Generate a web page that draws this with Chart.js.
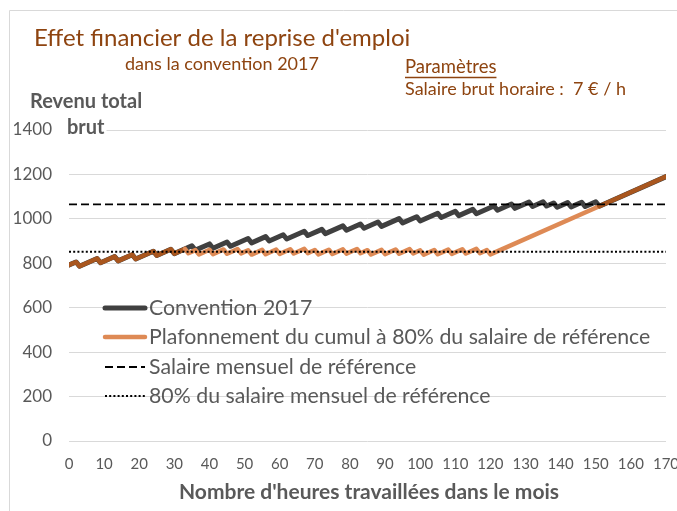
<!DOCTYPE html>
<html>
<head>
<meta charset="utf-8">
<script src="https://cdn.jsdelivr.net/npm/chart.js@4.4.1/dist/chart.umd.min.js"></script>
<style>
  html, body { margin: 0; padding: 0; background: #fff; }
  canvas { display: block; }
</style>
</head>
<body>
<canvas id="myChart" width="677" height="511"></canvas>
<script>
// Convention 2017 (heures, revenu total brut)
const hoursConv = [0, 2, 3, 8, 9, 13, 14, 18, 19, 24, 25, 29, 30, 35, 36, 40, 41, 45, 46, 51,
    52, 56, 57, 61, 62, 67, 68, 72, 73, 78, 79, 83, 84, 88, 89, 94, 95, 99, 100, 105,
    106, 110, 111, 115, 116, 121, 122, 126, 127, 131, 132, 135, 136, 138, 139, 142, 143, 146, 147, 150,
    151, 170];
const valuesConv = [792, 806, 786.6, 821.6, 802.2, 830.2, 810.8, 838.8, 819.4, 854.4, 835, 863, 843.6, 878.6, 859.2, 887.2, 867.8, 895.8, 876.4, 911.4,
    892, 920, 900.6, 928.6, 909.2, 944.2, 924.8, 952.8, 933.4, 968.4, 949, 977, 957.6, 985.6, 966.2, 1001.2, 981.8, 1009.8, 990.4, 1025.4,
    1006, 1034, 1014.6, 1042.6, 1023.2, 1058.2, 1038.8, 1066.8, 1047.4, 1075.4, 1056, 1077, 1057.6, 1071.6, 1052.2, 1073.2, 1053.8, 1074.8, 1055.4, 1076.4,
    1057, 1190];

// Plafonnement du cumul à 80%
const hoursCap = [0, 2, 3, 8, 9, 13, 14, 18, 19, 24, 25, 29, 30, 33, 34, 36, 37, 40, 41, 44,
    45, 48, 49, 51, 52, 55, 56, 59, 60, 63, 64, 67, 68, 70, 71, 74, 75, 78, 79, 82,
    83, 85, 86, 89, 90, 93, 94, 97, 98, 100, 101, 104, 105, 108, 109, 112, 113, 116, 117, 119,
    120, 151, 170];
const valuesCap = [792, 806, 786.6, 821.6, 802.2, 830.2, 810.8, 838.8, 819.4, 854.4, 835, 863, 843.6, 864.6, 845.2, 859.2, 839.8, 860.8, 841.4, 862.4,
    843, 864, 844.6, 858.6, 839.2, 860.2, 840.8, 861.8, 842.4, 863.4, 844, 865, 845.6, 859.6, 840.2, 861.2, 841.8, 862.8, 843.4, 864.4,
    845, 859, 839.6, 860.6, 841.2, 862.2, 842.8, 863.8, 844.4, 858.4, 839, 860, 840.6, 861.6, 842.2, 863.2, 843.8, 864.8, 845.4, 859.4,
    840, 1057, 1190];

// lignes de référence
const refHours = [0, 170];
const refSalary = [1065, 1065];
const ref80 = [852, 852];

const xTickValues = [0, 10, 20, 30, 40, 50, 60, 70, 80, 90, 100, 110, 120, 130, 140, 150, 160, 170];
const yTickValues = [0, 200, 400, 600, 800, 1000, 1200, 1400];

const seriesLabels = [
    'Convention 2017',
    'Plafonnement du cumul à 80% du salaire de référence',
    'Salaire mensuel de référence',
    '80% du salaire mensuel de référence'
];

const GREY = '#404040';
const ORANGE = '#DE8A55';
const BROWN = '#A9561E';
const TITLE = '#8E4410';
const TEXT = '#595959';
const FONT = 'Lato, "Open Sans", sans-serif';

function toPoints(xs, ys) {
    return xs.map((x, i) => ({ x: x, y: ys[i] }));
}

const textPlugin = {
    id: 'textPlugin',
    beforeDraw(chart) {
        const c = chart.ctx;
        c.save();
        c.strokeStyle = '#D9D9D9';
        c.lineWidth = 1;
        c.beginPath();
        c.moveTo(9.5, 520);
        c.lineTo(9.5, 10.5);
        c.lineTo(690, 10.5);
        c.stroke();
        c.restore();
    },
    afterDraw(chart) {
        const c = chart.ctx;
        c.save();
        c.textBaseline = 'middle';
        c.textAlign = 'left';

        c.fillStyle = TITLE;
        c.font = '24px ' + FONT;
        c.fillText("Effet financier de la reprise d'emploi", 34, 38);
        c.font = '18px ' + FONT;
        c.fillText('dans la convention 2017', 125, 64);
        c.font = '18.5px ' + FONT;
        c.fillText('Paramètres', 405, 67);
        const pw = c.measureText('Paramètres').width;
        c.strokeStyle = TITLE;
        c.lineWidth = 1.5;
        c.beginPath();
        c.moveTo(405, 77.5);
        c.lineTo(405 + pw, 77.5);
        c.stroke();
        c.font = '18px ' + FONT;
        c.fillText('Salaire brut horaire :  7 € / h', 405, 89);

        // titre axe Y
        c.font = 'bold 20px ' + FONT;
        c.fillStyle = TEXT;
        c.fillText('Revenu total', 30, 102);
        const bw = c.measureText('brut').width;
        c.fillStyle = '#fff';
        c.fillRect(65, 117, bw + 4, 22);
        c.fillStyle = TEXT;
        c.fillText('brut', 67, 128);

        // titre axe X
        c.font = 'bold 21px ' + FONT;
        c.textAlign = 'center';
        c.fillText("Nombre d'heures travaillées dans le mois", 369, 492);

        // légende
        c.textAlign = 'left';
        c.font = '21.3px ' + FONT;
        const rows = [308, 337, 367, 396];
        chart.data.datasets.forEach((ds, i) => {
            const y = rows[i];
            c.save();
            c.strokeStyle = ds.borderColor;
            c.lineWidth = ds.borderWidth;
            c.lineCap = ds.borderDash ? 'butt' : 'round';
            c.setLineDash(ds.borderDash || []);
            c.beginPath();
            c.moveTo(105, y);
            c.lineTo(145, y);
            c.stroke();
            c.restore();
            c.fillStyle = TEXT;
            c.fillText(seriesLabels[i], 149, y);
        });
        c.restore();
    }
};

const ctx = document.getElementById('myChart').getContext('2d');
new Chart(ctx, {
    type: 'line',
    data: {
        datasets: [{
            label: seriesLabels[0],
            data: toPoints(hoursConv, valuesConv),
            borderColor: GREY,
            borderWidth: 5,
            order: 4
        }, {
            label: seriesLabels[1],
            data: toPoints(hoursCap, valuesCap),
            borderColor: ORANGE,
            borderWidth: 4.5,
            order: 3,
            segment: {
                borderColor: s => (s.p1.parsed.x <= 33 || s.p0.parsed.x >= 151) ? BROWN : undefined
            }
        }, {
            label: seriesLabels[2],
            data: toPoints(refHours, refSalary),
            borderColor: '#000',
            borderWidth: 1.8,
            borderDash: [8, 4],
            borderCapStyle: 'butt',
            order: 2
        }, {
            label: seriesLabels[3],
            data: toPoints(refHours, ref80),
            borderColor: '#000',
            borderWidth: 2,
            borderDash: [2, 2.2],
            borderCapStyle: 'butt',
            order: 1
        }]
    },
    options: {
        responsive: false,
        animation: false,
        elements: {
            point: { radius: 0 },
            line: { tension: 0, borderCapStyle: 'round', borderJoinStyle: 'round' }
        },
        layout: { padding: { left: 0, right: 11, top: 130, bottom: 30 } },
        plugins: {
            legend: { display: false },
            tooltip: { enabled: false }
        },
        scales: {
            x: {
                type: 'linear',
                min: 0,
                max: 170,
                afterBuildTicks: s => { s.ticks = xTickValues.map(v => ({ value: v })); },
                afterFit: s => { s.height = 40; s.paddingLeft = 0; s.paddingRight = 0; },
                grid: { display: false, drawTicks: false },
                border: { display: false },
                ticks: { color: TEXT, font: { family: FONT, size: 15 }, padding: 14, maxRotation: 0, autoSkip: false, callback: v => String(v) }
            },
            y: {
                min: 0,
                max: 1400,
                afterBuildTicks: s => { s.ticks = yTickValues.map(v => ({ value: v })); },
                afterFit: s => { s.width = 69; },
                grid: { color: '#D9D9D9', lineWidth: 1, drawTicks: false },
                border: { display: false },
                ticks: { color: TEXT, font: { family: FONT, size: 17 }, padding: 17, callback: v => String(v) }
            }
        }
    },
    plugins: [textPlugin]
});
</script>
</body>
</html>
